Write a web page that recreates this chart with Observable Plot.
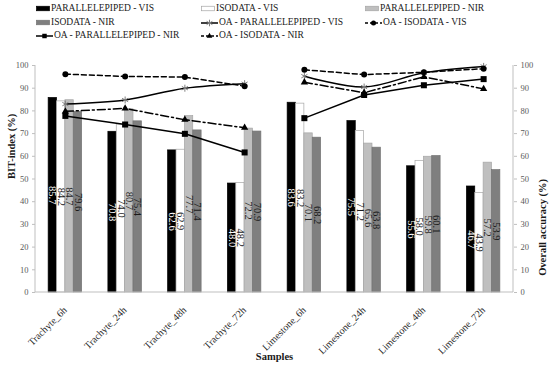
<!DOCTYPE html>
<html><head><meta charset="utf-8">
<script src="https://cdn.jsdelivr.net/npm/d3@7"></script>
<script src="https://cdn.jsdelivr.net/npm/@observablehq/plot@0.6"></script>
<style>
html,body{margin:0;padding:0;background:#fff;overflow:hidden;}
#wrap{position:relative;width:550px;height:369px;overflow:hidden;font-family:"Liberation Serif",serif;}
#legend{position:relative;width:550px;height:45px;}
.li{position:absolute;display:flex;align-items:center;font-size:9.5px;color:#1a1a1a;white-space:nowrap;line-height:1;transform:translateY(-50%);}
.li svg{display:block;margin-right:1px;}
</style></head><body>
<div id="wrap"><div id="legend"></div><div id="chart"></div></div>
<script>
// ---- data ----
const categories = ["Trachyte_6h","Trachyte_24h","Trachyte_48h","Trachyte_72h","Limestone_6h","Limestone_24h","Limestone_48h","Limestone_72h"];
const barNames = ["PARALLELEPIPED - VIS","ISODATA - VIS","PARALLELEPIPED - NIR","ISODATA - NIR"];
const bitParallelepipedVIS = [85.7,70.8,62.6,48.0,83.6,75.5,55.6,46.7];
const bitIsodataVIS        = [84.2,74.0,62.9,48.2,83.2,71.2,58.0,43.9];
const bitParallelepipedNIR = [84.7,80.7,77.7,72.2,70.1,65.6,59.8,57.2];
const bitIsodataNIR        = [79.6,75.4,71.4,70.9,68.2,63.8,60.1,53.9];
const lineNames = ["OA -  PARALLELEPIPED - VIS","OA - ISODATA - VIS","OA - PARALLELEPIPED - NIR","OA - ISODATA - NIR"];
const oaParallelepipedVIS = [83.0,84.8,90.0,92.0,95.3,90.5,96.8,99.6];
const oaIsodataVIS        = [96.2,95.2,94.9,90.9,98.1,96.0,97.0,98.6];
const oaParallelepipedNIR = [77.8,74.0,69.9,61.7,76.8,87.0,91.3,94.0];
const oaIsodataNIR        = [79.8,81.1,76.1,72.6,92.6,88.0,95.0,89.7];
const yTicks = [0,10,20,30,40,50,60,70,80,90,100];
const yLabelLeft = "BIT-index (%)";
const yLabelRight = "Overall accuracy (%)";
const xLabel = "Samples";

// ---- styles ----
const barValues = [bitParallelepipedVIS, bitIsodataVIS, bitParallelepipedNIR, bitIsodataNIR];
const lineValues = [oaParallelepipedVIS, oaIsodataVIS, oaParallelepipedNIR, oaIsodataNIR];
const barStyle = [
  {fill:"#000000", stroke:"#000000", text:"#ffffff"},
  {fill:"#ffffff", stroke:"#a6a6a6", text:"#1a1a1a"},
  {fill:"#bfbfbf", stroke:"#a6a6a6", text:"#262626"},
  {fill:"#7f7f7f", stroke:"#737373", text:"#1a1a1a"}
];
const barW = 0.14;          // bar width as a fraction of one category slot
const lineStyle = [
  {dash:null, symbol:"asterisk", r:3.3, fill:"none", stroke:"#7f7f7f", curve:"catmull-rom"},
  {dash:"5,3", symbol:"circle", r:3, fill:"#000", stroke:"none", curve:"linear"},
  {dash:null, symbol:"square", r:3.4, fill:"#000", stroke:"none", curve:"linear"},
  {dash:"8,3,2,3", symbol:"triangle", r:2.7, fill:"#000", stroke:"none", curve:"linear"}
];
const font = "Liberation Serif, serif";

// category index i -> slot center i + 0.5 on a linear x scale
const barData = barValues.map((vals, j) => categories.map((c, i) => ({
  c, v: vals[i],
  x1: i + 0.5 + (j - 2) * barW,
  x2: i + 0.5 + (j - 1) * barW,
  xm: i + 0.5 + (j - 1.5) * barW
})));
const lineData = lineValues.map(vals => categories.map((c, i) => ({c, v: vals[i], xm: i + 0.5, g: c.split("_")[0]})));

function axisLines(index, scales, values, dims) {
  const g = d3.create("svg:g").attr("stroke", "#bfbfbf").attr("stroke-width", 1);
  const x0 = dims.marginLeft, x1 = dims.width - dims.marginRight;
  const y0 = dims.marginTop, y1 = dims.height - dims.marginBottom;
  g.append("line").attr("x1", x0).attr("x2", x0).attr("y1", y0).attr("y2", y1);
  g.append("line").attr("x1", x1).attr("x2", x1).attr("y1", y0).attr("y2", y1);
  g.append("line").attr("x1", x0).attr("x2", x1).attr("y1", y1).attr("y2", y1);
  return g.node();
}

const marks = [
  Plot.axisY({anchor:"left", ticks:yTicks, tickSize:3, tickPadding:4, fontSize:8.5, stroke:"#bfbfbf", fill:"#595959", label:null}),
  Plot.axisY({anchor:"right", ticks:yTicks, tickSize:3, tickPadding:4, fontSize:8.5, stroke:"#bfbfbf", fill:"#595959", label:null}),
  Plot.axisX({ticks: categories.map((c, i) => i + 0.5), tickFormat: d => categories[Math.floor(d)],
    tickRotate:-45, tickSize:0, tickPadding:10, dy:6, fontSize:10, fill:"#262626", label:null}),
];
barData.forEach((d, j) => {
  marks.push(Plot.rectY(d, {x1:"x1", x2:"x2", y1:0, y2:"v", fill:barStyle[j].fill, stroke:barStyle[j].stroke, strokeWidth:0.7}));
});
barData.forEach((d, j) => {
  marks.push(Plot.text(d, {x:"xm", y: e => e.v / 2, text: e => e.v.toFixed(1), rotate:90, fill:barStyle[j].text, fontSize:10.5}));
});
marks.push(axisLines);
lineData.forEach((d, j) => {
  const s = lineStyle[j];
  marks.push(Plot.line(d, {x:"xm", y:"v", z:"g", stroke:"#000", strokeWidth:1.5, strokeDasharray:s.dash, curve:s.curve}));
});
lineData.forEach((d, j) => {
  const s = lineStyle[j];
  marks.push(Plot.dot(d, {x:"xm", y:"v", symbol:s.symbol, r:s.r, fill:s.fill, stroke:s.stroke, strokeWidth:1}));
});
marks.push(Plot.text([yLabelLeft], {text:d=>d, frameAnchor:"left", dx:-24, rotate:-90, fontWeight:"bold", fontSize:10.5, fill:"#1a1a1a"}));
marks.push(Plot.text([yLabelRight], {text:d=>d, frameAnchor:"right", dx:29, rotate:-90, fontWeight:"bold", fontSize:10.5, fill:"#1a1a1a"}));
marks.push(Plot.text([xLabel], {text:d=>d, frameAnchor:"bottom", dy:67, fontWeight:"bold", fontSize:10.5, fill:"#1a1a1a"}));

const chart = Plot.plot({
  width:550, height:324,
  marginTop:20, marginBottom:77, marginLeft:35, marginRight:37,
  style:{fontFamily:font, background:"white", overflow:"visible"},
  x:{type:"linear", domain:[0, categories.length]},
  y:{domain:[0,100]},
  marks
});
document.getElementById("chart").appendChild(chart);

// ---- legend ----
const legend = document.getElementById("legend");
const items = [
  ...barNames.map((n,j) => ({name:n, kind:"bar", j})),
  ...lineNames.map((n,j) => ({name:n, kind:"line", j}))
];
const colX = [36, 201, 365];
const rowY = [8.5, 22.5, 35.5];
items.forEach((it, k) => {
  const div = document.createElement("div");
  div.className = "li";
  div.style.left = colX[k % 3] + "px";
  div.style.top = rowY[Math.floor(k / 3)] + "px";
  const svg = d3.create("svg");
  if (it.kind === "bar") {
    const st = barStyle[it.j];
    svg.attr("width", 14).attr("height", 8);
    svg.append("rect").attr("x", 0.5).attr("y", 2).attr("width", 13).attr("height", 4.5)
      .attr("fill", st.fill).attr("stroke", st.stroke).attr("stroke-width", 0.7);
  } else {
    const st = lineStyle[it.j];
    svg.attr("width", 17).attr("height", 10);
    svg.append("line").attr("x1", 0).attr("x2", 17).attr("y1", 5).attr("y2", 5)
      .attr("stroke", "#000").attr("stroke-width", 1.5).attr("stroke-dasharray", st.dash ? "3,2" : null);
    const sym = {circle:d3.symbolCircle, square:d3.symbolSquare, triangle:d3.symbolTriangle, asterisk:d3.symbolAsterisk}[st.symbol];
    svg.append("path").attr("transform", "translate(8.5,5)")
      .attr("d", d3.symbol(sym, st.symbol === "asterisk" ? 30 : (st.symbol === "triangle" ? 14 : 20))())
      .attr("fill", st.fill).attr("stroke", st.stroke === "none" ? null : st.stroke);
  }
  div.appendChild(svg.node());
  const span = document.createElement("span");
  span.textContent = it.name;
  div.appendChild(span);
  legend.appendChild(div);
});
</script>
</body></html>
